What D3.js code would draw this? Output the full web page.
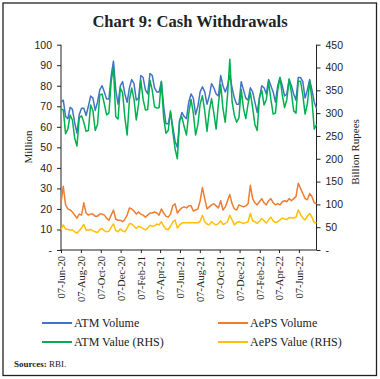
<!DOCTYPE html>
<html>
<head>
<meta charset="utf-8">
<script src="https://cdn.jsdelivr.net/npm/d3@7"></script>
<style>
  body { margin: 0; background: #fff; }
  svg text { fill: #222; }
</style>
</head>
<body>
<div id="chart"></div>
<script>
// weekly observations, first week = 07-Jun-20
const startDate = "2020-06-07";

const tickLabels = ["07-Jun-20", "07-Aug-20", "07-Oct-20", "07-Dec-20", "07-Feb-21", "07-Apr-21",
  "07-Jun-21", "07-Aug-21", "07-Oct-21", "07-Dec-21", "07-Feb-22", "07-Apr-22", "07-Jun-22"];

// ATM Volume (Million, LHS)
const atmVolume = [72, 73, 65, 64, 69.5, 68.5, 62, 57, 66, 69, 69, 65.5, 70, 75, 74, 68, 72, 78, 80, 77,
  73.5, 73.5, 85, 92, 78, 71, 80, 82, 76, 72, 79, 83, 81, 73, 74, 85, 84, 78, 76, 86,
  85, 79, 77, 77, 82, 70, 61.5, 61.5, 67, 60, 53, 50, 63, 67, 65, 64, 72, 76, 74, 66,
  70, 77, 79.5, 77, 71, 75, 81, 79, 76, 75, 85, 80, 77, 80, 85, 79, 74, 71, 71, 82,
  78, 74, 73, 79, 77, 72, 67, 74, 80, 79, 76, 83, 80, 77, 72, 80, 84, 80, 75, 76,
  83, 80, 76, 73, 84, 84, 82, 74, 78, 83, 78, 72, 69];

// AePS Volume (Million, LHS)
const aepsVolume = [23, 31, 22, 20, 19.5, 18.5, 17, 15.5, 17.5, 17, 23, 18, 17, 17.5, 17.5, 16.5, 16.5, 17.5, 17.5, 17,
  15.5, 14.5, 17, 19.5, 15, 14.5, 14.5, 13.8, 15, 17, 20.5, 20, 19, 17.5, 18.5, 17.5, 17, 16, 17, 18,
  18, 18.5, 18, 17, 20, 18, 16.5, 16, 17.5, 21.5, 22.5, 18, 19.5, 20.5, 21, 20.5, 21.5, 21.5, 19, 19.5,
  20, 24, 30.5, 25, 20, 21, 22, 22.5, 21.5, 20.5, 24, 19.5, 21, 24, 27, 22.5, 20, 19.5, 22, 21.5,
  21, 21.5, 22.5, 31.5, 25, 23, 22, 23.5, 25, 23, 22, 24, 25, 23, 22, 22.5, 22, 23.5, 24, 23.5,
  25, 24, 25, 26, 32.5, 30, 27.5, 25, 24.5, 27.5, 26, 23, 22.5];

// ATM Value (Billion Rupees, RHS)
const atmValue = [309, 307, 255, 265, 296, 285, 245, 228, 290, 294, 280, 260, 262, 318, 305, 262, 275, 340, 342, 320,
  296, 300, 370, 400, 292, 287, 355, 345, 290, 252, 330, 355, 330, 285, 320, 372, 330, 307, 308, 372,
  350, 314, 311, 312, 370, 290, 256, 262, 305, 260, 222, 200, 285, 292, 270, 252, 300, 330, 300, 252,
  275, 320, 338, 305, 260, 305, 332, 300, 265, 320, 363, 310, 280, 340, 418, 325, 295, 280, 290, 352,
  310, 288, 320, 345, 312, 275, 262, 335, 350, 318, 330, 368, 330, 298, 300, 350, 378, 340, 312, 330,
  375, 345, 305, 300, 370, 370, 340, 298, 320, 370, 330, 265, 275];

// AePS Value (Billion Rupees, RHS)
const aepsValue = [44, 55, 46, 45, 44, 44, 40, 37, 42, 48, 56, 44, 44, 45, 42, 40, 38, 45, 47, 42,
  40, 41, 50, 57, 43, 40, 46, 42, 40, 48, 58, 57, 52, 47, 52, 50, 47, 44, 48, 54,
  52, 53, 57, 55, 62, 52, 46, 45, 52, 62, 66, 48, 55, 59, 60, 60, 60, 60, 60, 60,
  60, 63, 76, 62, 57, 55, 62, 58, 55, 58, 64, 56, 58, 62, 76, 66, 55, 60, 62, 60,
  58, 60, 62, 80, 64, 62, 58, 63, 69, 64, 59, 66, 72, 64, 60, 62, 66, 70, 68, 67,
  71, 70, 70, 72, 88, 78, 70, 66, 74, 80, 72, 60, 60];

const leftTicks = [0, 10, 20, 30, 40, 50, 60, 70, 80, 90, 100];
const rightTicks = [0, 50, 100, 150, 200, 250, 300, 350, 400, 450];

const series = [
  { name: "ATM Volume", values: atmVolume, axis: "left", color: "#4472C4" },
  { name: "AePS Volume", values: aepsVolume, axis: "left", color: "#ED7D31" },
  { name: "ATM Value (RHS)", values: atmValue, axis: "right", color: "#00B050" },
  { name: "AePS Value (RHS)", values: aepsValue, axis: "right", color: "#FFC000" }
];

const W = 380, H = 379;
const plot = { left: 61, right: 316.5, top: 44.7, bottom: 250 };

const svg = d3.select("#chart").append("svg")
  .attr("width", W)
  .attr("height", H);

// outer frame
svg.append("rect")
  .attr("x", 3).attr("y", 3)
  .attr("width", 373.5).attr("height", 372.5)
  .attr("fill", "none")
  .attr("stroke", "#222")
  .attr("stroke-width", 1.3);

svg.append("text")
  .attr("x", 190).attr("y", 27)
  .attr("text-anchor", "middle")
  .style("font-family", "'Liberation Serif', serif")
  .style("font-weight", "bold")
  .style("font-size", "16.5px")
  .text("Chart 9: Cash Withdrawals");

const parse = d3.timeParse("%Y-%m-%d");
const t0 = parse(startDate);
const dates = atmVolume.map((d, i) => d3.timeDay.offset(t0, i * 7));

const x = d3.scaleTime()
  .domain([t0, dates[dates.length - 1]])
  .range([plot.left, plot.right]);
const yL = d3.scaleLinear().domain([0, 100]).range([plot.bottom, plot.top]);
const yR = d3.scaleLinear().domain([0, 450]).range([plot.bottom, plot.top]);

const numFont = "'Liberation Sans', Arial, sans-serif";
const serif = "'Liberation Serif', serif";

// left axis
const gl = svg.append("g")
  .attr("transform", "translate(" + plot.left + ",0)")
  .call(d3.axisLeft(yL).tickValues(leftTicks).tickSize(4).tickPadding(5)
    .tickFormat(d => d === 0 ? "-  " : d));
// right axis
const gr = svg.append("g")
  .attr("transform", "translate(" + plot.right + ",0)")
  .call(d3.axisRight(yR).tickValues(rightTicks).tickSize(4).tickPadding(5)
    .tickFormat(d => d === 0 ? "  -" : d));
[gl, gr].forEach(g => {
  g.selectAll("text").style("font-family", numFont).style("font-size", "10.5px").attr("fill", "#222");
  g.selectAll("line, path").attr("stroke", "#222");
  g.select(".domain").attr("d", "M0," + plot.bottom + "V" + plot.top);
});

// bottom axis
const tickDates = tickLabels.map(d3.timeParse("%d-%b-%y"));
const gx = svg.append("g")
  .attr("transform", "translate(0," + plot.bottom + ")")
  .call(d3.axisBottom(x).tickValues(tickDates).tickSize(3).tickSizeOuter(0)
    .tickFormat(d3.timeFormat("%d-%b-%y")));
gx.select(".domain").attr("d", "M" + plot.left + ",0H" + plot.right).attr("stroke", "#222");
gx.selectAll("line").attr("stroke", "#222");
gx.selectAll("text")
  .attr("transform", "rotate(-90)")
  .attr("x", -6).attr("y", 0).attr("dy", "0.35em")
  .attr("text-anchor", "end")
  .style("font-family", serif)
  .style("font-size", "10.5px")
  .attr("fill", "#222");

// axis titles
svg.append("text")
  .attr("transform", "translate(32," + 147 + ") rotate(-90)")
  .attr("text-anchor", "middle")
  .style("font-family", serif).style("font-size", "11px")
  .text("Million");
svg.append("text")
  .attr("transform", "translate(359," + 152 + ") rotate(-90)")
  .attr("text-anchor", "middle")
  .style("font-family", serif).style("font-size", "11px")
  .text("Billion Rupees");

// lines
series.forEach(s => {
  const y = s.axis === "left" ? yL : yR;
  const line = d3.line()
    .x((d, i) => x(dates[i]))
    .y(d => y(d));
  svg.append("path")
    .datum(s.values)
    .attr("fill", "none")
    .attr("stroke", s.color)
    .attr("stroke-width", 1.5)
    .attr("stroke-linejoin", "round")
    .attr("d", line);
});

// legend
const legendPos = [[42, 323], [218, 323], [42, 342], [218, 342]];
series.forEach((s, i) => {
  const g = svg.append("g").attr("transform", "translate(" + legendPos[i][0] + "," + legendPos[i][1] + ")");
  g.append("line").attr("x1", 0).attr("x2", 30).attr("y1", 0).attr("y2", 0)
    .attr("stroke", s.color).attr("stroke-width", 2);
  g.append("text").attr("x", 32).attr("y", 4)
    .style("font-family", serif).style("font-size", "12px")
    .text(s.name);
});

// source note
const src = svg.append("text").attr("x", 14).attr("y", 367)
  .style("font-family", serif).style("font-size", "9px");
src.append("tspan").style("font-weight", "bold").text("Sources: ");
src.append("tspan").text("RBI.");
</script>
</body>
</html>
